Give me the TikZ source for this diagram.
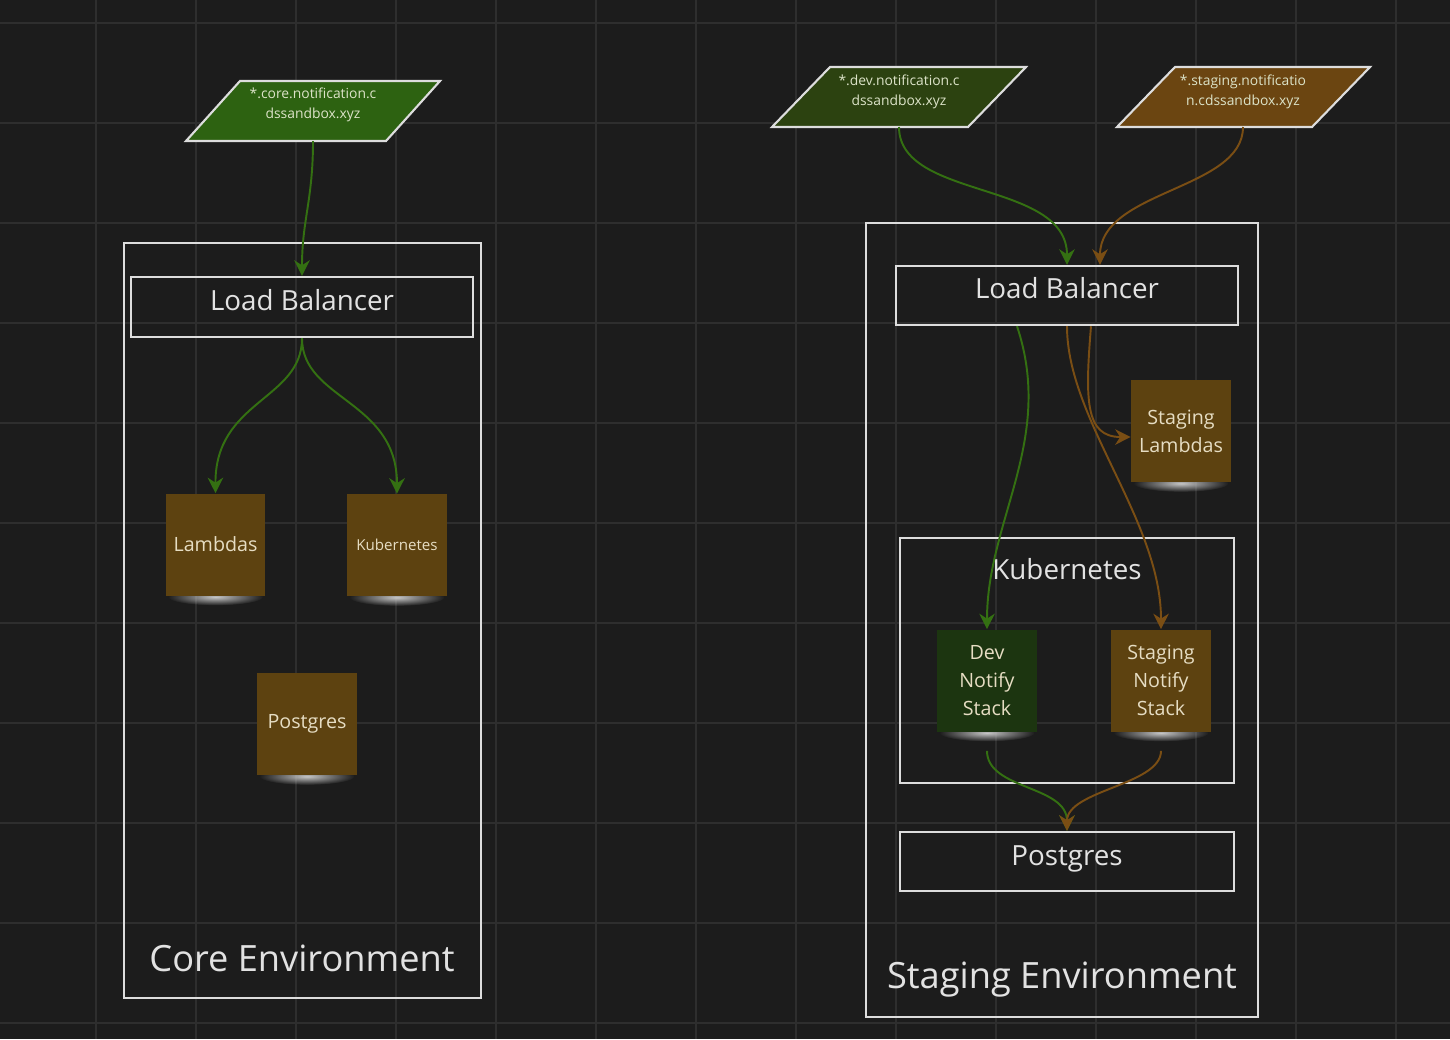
\documentclass[tikz,border=0pt]{standalone}
\usepackage{fontspec}
\setmainfont{Open Sans}
\usetikzlibrary{arrows.meta,fadings}

\definecolor{canvas}{HTML}{1C1C1C}
\definecolor{gridgray}{HTML}{2E2E2E}
\definecolor{boxline}{HTML}{DDDDDD}
\definecolor{labeltext}{HTML}{E2E2E2}
\definecolor{notetext}{HTML}{E6DDC3}
\definecolor{dnstext}{HTML}{DCE3C8}
\definecolor{coregreen}{HTML}{2D6211}
\definecolor{devgreen}{HTML}{2C4210}
\definecolor{stagingbrown}{HTML}{6B4511}
\definecolor{notebrown}{HTML}{5D4210}
\definecolor{notegreen}{HTML}{1C3510}
\definecolor{arrowgreen}{HTML}{347012}
\definecolor{arrowbrown}{HTML}{7A4E14}

\tikzfading[name=glowfade, inner color=transparent!0, outer color=transparent!100]
\pgfdeclarelayer{back}
\pgfdeclarelayer{glow}
\pgfsetlayers{back,glow,main}

\tikzset{
  panel/.style={draw=boxline, line width=1.4pt, inner sep=0pt},
  panellabel/.style={text=labeltext, inner sep=0pt, anchor=base, font=\fontsize{15.8}{19}\selectfont},
  envlabel/.style={text=labeltext, inner sep=0pt, anchor=base, font=\fontsize{20.6}{24}\selectfont},
  sticky/.style={fill=notebrown, minimum width=2cm, minimum height=2.04cm, inner sep=0pt, align=center, text=notetext, font=\fontsize{11.2}{15.9}\selectfont},
  dnsbox/.style={draw=boxline, line width=1.2pt},
  dnslabel/.style={align=center, text=dnstext, inner sep=0pt, font=\fontsize{7.9}{11.4}\selectfont},
  wire/.style={line width=1.1pt, -{Stealth[length=3.1mm, width=3.1mm, inset=1mm]}},
  greenwire/.style={wire, draw=arrowgreen},
  brownwire/.style={wire, draw=arrowbrown},
  glowing/.style={fill=white!78!black, path fading=glowfade},
}

\begin{document}
\begin{tikzpicture}[x=0.02cm, y=-0.02cm]

\useasboundingbox (0,0) rectangle (1450,1039);
\begin{pgfonlayer}{back}
\fill[canvas] (0,0) rectangle (1450,1039);
\foreach \gx in {96,196,...,1396}
  \draw[gridgray, line width=0.6pt] (\gx,0) -- (\gx,1039);
\foreach \gy in {23,123,...,1023}
  \draw[gridgray, line width=0.6pt] (0,\gy) -- (1450,\gy);
\end{pgfonlayer}

% core environment
\draw[dnsbox, fill=coregreen] (186,141) -- (240,81) -- (440,81) -- (386,141) -- cycle;
\node[dnslabel] (coredns) at (313,105) {*.core.notification.c\\dssandbox.xyz};
\coordinate (corednsport) at (313,141);

\node[panel, minimum width=7.14cm, minimum height=15.1cm] (coreenv) at (302.5,620.5) {};
\node[panel, minimum width=6.84cm, minimum height=1.2cm] (corelb) at (302,307) {};
\node[panellabel] (corelbtext) at (302,310) {Load Balancer};

\node[sticky] (lambdas) at (215.5,544.5) {Lambdas};
\node[sticky, font=\fontsize{8.6}{12}\selectfont] (kubernetes) at (397,545) {Kubernetes};
\node[sticky] (postgres) at (307,724) {Postgres};
\node[envlabel] (coreenvtext) at (302,971) {Core Environment};

\draw[greenwire] (corednsport) .. controls (313,200) and (302,220) .. (corelb.north);
\draw[greenwire] (corelb.south) .. controls (302,400) and (215,400) .. (lambdas.north);
\draw[greenwire] (corelb.south) .. controls (302,400) and (397,400) .. (kubernetes.north);

% staging environment
\draw[dnsbox, fill=devgreen] (772,127) -- (830,67) -- (1026,67) -- (968,127) -- cycle;
\node[dnslabel] (devdns) at (899,92) {*.dev.notification.c\\dssandbox.xyz};
\coordinate (devdnsport) at (899,127);

\draw[dnsbox, fill=stagingbrown] (1117,127) -- (1175,67) -- (1370,67) -- (1312,127) -- cycle;
\node[dnslabel] (stgdns) at (1243,92) {*.staging.notificatio\\n.cdssandbox.xyz};
\coordinate (stgdnsport) at (1243,127);

\node[panel, minimum width=7.84cm, minimum height=15.88cm] (stgenv) at (1062,620) {};
\node[panel, minimum width=6.84cm, minimum height=1.18cm] (stglb) at (1067,295.5) {};
\node[panellabel] (stglbtext) at (1067,298) {Load Balancer};

\node[sticky] (stglambdas) at (1181,431) {Staging\\Lambdas};

\node[panel, minimum width=6.68cm, minimum height=4.9cm] (k8sbox) at (1067,660.5) {};
\node[panellabel] (k8stext) at (1067,579) {Kubernetes};
\node[sticky, fill=notegreen] (devstack) at (987,680.5) {Dev\\Notify\\Stack};
\node[sticky] (stgstack) at (1161,680.5) {Staging\\Notify\\Stack};

\node[panel, minimum width=6.68cm, minimum height=1.18cm] (stgpg) at (1067,861.5) {};
\node[panellabel] (stgpgtext) at (1067,865) {Postgres};
\node[envlabel] (stgenvtext) at (1062,988) {Staging Environment};

\draw[greenwire] (devdnsport) .. controls (899,200) and (1067,180) .. (stglb.north);
\draw[brownwire] (stgdnsport) .. controls (1243,190) and (1100,190) .. ([xshift=0.66cm]stglb.north);
\draw[greenwire] ([xshift=-1cm]stglb.south) .. controls (1055,440) and (987,520) .. (devstack.north);
\draw[brownwire] (stglb.south) .. controls (1067,420) and (1161,520) .. (stgstack.north);
\draw[brownwire] ([xshift=0.48cm]stglb.south) .. controls (1085,400) and (1085,437) .. ([yshift=-0.12cm]stglambdas.west);
\draw[greenwire] ([yshift=-0.38cm]devstack.south) .. controls (987,790) and (1067,785) .. (stgpg.north);
\draw[brownwire] ([yshift=-0.38cm]stgstack.south) .. controls (1161,785) and (1067,790) .. (stgpg.north);

% glow under the notes
\begin{pgfonlayer}{glow}
\foreach \note in {lambdas,kubernetes,postgres,stglambdas,devstack,stgstack}
  \fill[glowing] ([yshift=-0.02cm]\note.south) ellipse [x radius=0.95cm, y radius=0.17cm];
\end{pgfonlayer}

\end{tikzpicture}
\end{document}
